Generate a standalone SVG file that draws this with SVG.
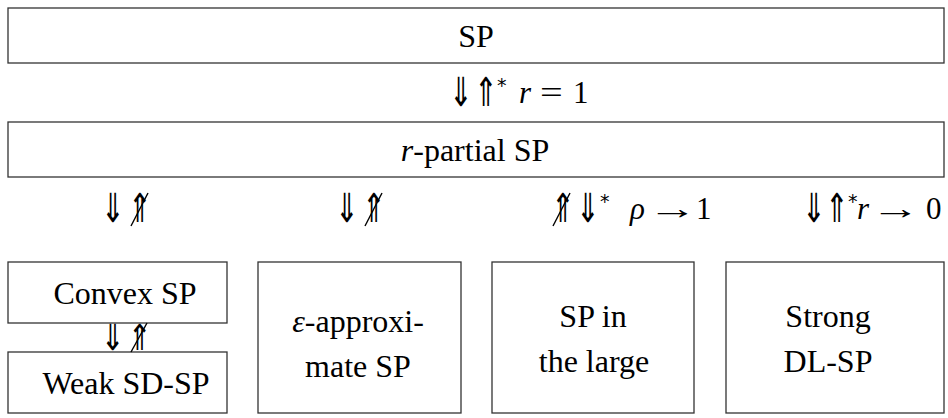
<svg xmlns="http://www.w3.org/2000/svg" width="948" height="418" viewBox="0 0 948 418">
<style>
.box{fill:#fff;stroke:#333;stroke-width:1.3}
.t{font-family:'Liberation Serif','DejaVu Serif',serif;font-size:32px;fill:#000;text-anchor:middle}
.m{font-family:'Liberation Serif','DejaVu Serif',serif;font-size:31px;fill:#000}
.i{font-style:italic}
.ar{font-family:'DejaVu Sans',sans-serif;font-size:40px;fill:#000}
.sup{font-family:'DejaVu Sans',sans-serif;font-size:19px;fill:#000}
.sl{stroke:#000;stroke-width:1.4}
</style>
<rect width="948" height="418" fill="#fff"/>
<g id="sp"><rect class="box" x="8" y="8" width="936" height="55"/><text class="t" x="476" y="47">SP</text></g>
<g id="rpartial"><rect class="box" x="8" y="122" width="936" height="55"/><text class="t" x="475" y="161"><tspan class="i">r</tspan>-partial SP</text></g>
<g id="convex"><rect class="box" x="8" y="262" width="219" height="61"/><text class="t" x="125" y="304">Convex SP</text></g>
<g id="weak"><rect class="box" x="8" y="352" width="219" height="61"/><text class="t" x="126" y="394">Weak SD-SP</text></g>
<g id="eps"><rect class="box" x="258" y="262" width="203" height="151"/><text class="t" x="358" y="332"><tspan class="i">ε</tspan>-approxi-</text><text class="t" x="358" y="377">mate SP</text></g>
<g id="large"><rect class="box" x="492" y="262" width="202" height="151"/><text class="t" x="593" y="327">SP in</text><text class="t" x="594" y="372">the large</text></g>
<g id="strong"><rect class="box" x="726" y="262" width="218" height="151"/><text class="t" x="828" y="327">Strong</text><text class="t" x="828" y="372">DL-SP</text></g>
<g id="connectors">
<text class="ar" transform="translate(449,106) scale(0.7,1)">⇓</text><text class="ar" transform="translate(474,106) scale(0.7,1)">⇑</text><text class="sup" x="497" y="92">*</text>
<text class="m i" x="519" y="103">r</text><text class="m" transform="translate(540,103) scale(1.3,1)">=</text><text class="m" x="573" y="103">1</text>
<text class="ar" transform="translate(101,222) scale(0.7,1)">⇓</text><text class="ar" transform="translate(128,222) scale(0.7,1)">⇑</text><line class="sl" x1="131" y1="226" x2="148" y2="193"/>
<text class="ar" transform="translate(335,222) scale(0.7,1)">⇓</text><text class="ar" transform="translate(362,222) scale(0.7,1)">⇑</text><line class="sl" x1="365" y1="226" x2="382" y2="193"/>
<text class="ar" transform="translate(551,222) scale(0.7,1)">⇑</text><line class="sl" x1="553" y1="226" x2="570" y2="193"/>
<text class="ar" transform="translate(576,222) scale(0.7,1)">⇓</text><text class="sup" x="600" y="208">*</text>
<text class="m i" x="630" y="219">ρ</text><text class="m" transform="translate(648,219) scale(1.6,1)">→</text><text class="m" x="696" y="219">1</text>
<text class="ar" transform="translate(802,222) scale(0.7,1)">⇓</text><text class="ar" transform="translate(825,222) scale(0.7,1)">⇑</text><text class="sup" x="848" y="208">*</text>
<text class="m i" x="857" y="219">r</text><text class="m" transform="translate(871,219) scale(1.6,1)">→</text><text class="m" x="926" y="219">0</text>
<text class="ar" transform="translate(101,350) scale(0.7,0.9)">⇓</text><text class="ar" transform="translate(128,350) scale(0.7,0.9)">⇑</text><line class="sl" x1="131" y1="352" x2="147" y2="323"/>
</g>
</svg>
